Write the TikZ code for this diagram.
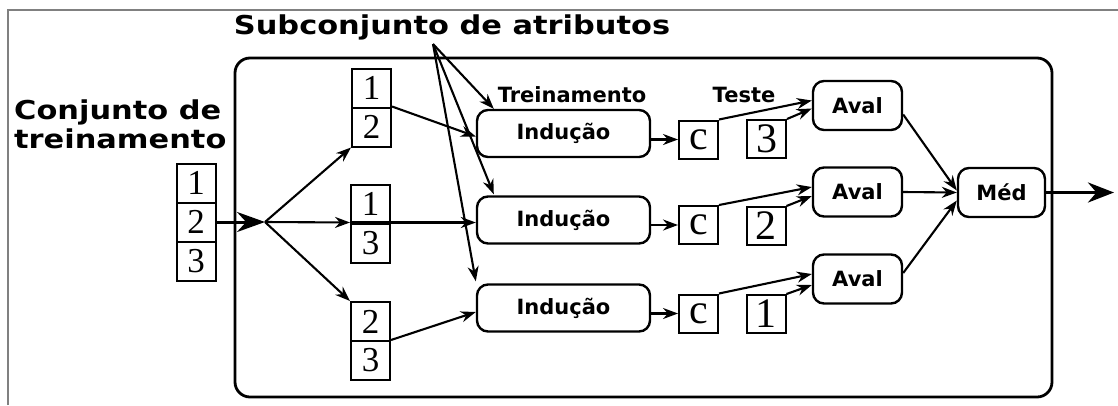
\documentclass[tikz,border=0pt]{standalone}
\usepackage{fontspec}
\setmainfont{Liberation Serif}
\newfontfamily\sansb{DejaVu Sans}
\newfontfamily\widesans{DejaVu Sans}[FakeStretch=1.17]
\usetikzlibrary{arrows.meta,calc}
\begin{document}
\begin{tikzpicture}[x=1pt,y=-1pt,
  every node/.style={inner sep=0pt},
  cell/.style={draw, line width=2pt, minimum width=39pt, minimum height=39pt, font=\fontsize{35}{35}\selectfont},
  bigcell/.style={draw, line width=2pt, minimum width=39pt, minimum height=38pt, font=\fontsize{42}{42}\selectfont},
  proc/.style={draw, line width=2.4pt, rounded corners=11pt, font=\sansb\bfseries\fontsize{21}{24}\selectfont},
  lbl/.style={font=\sansb\bfseries\fontsize{21}{24}\selectfont},
  big/.style={font=\widesans\bfseries\fontsize{26}{29}\selectfont},
  arr/.style={line width=2.1pt, -{Stealth[length=15pt,width=11pt]}},
]
\useasboundingbox (0,0) rectangle (1118,405);
\draw[gray, line width=1.5pt] (8,405) -- (8,10) -- (1118,10);
\draw[line width=2.8pt, rounded corners=15pt] (235,58) rectangle (1052,397);

% titles
\node[big] (title) at (452,27) {Subconjunto de atributos};
\node[big, anchor=north west, align=left] (conj) at (14,100) {Conjunto de\\treinamento};
\node[lbl, anchor=base] (trein) at (572,102) {Treinamento};
\node[lbl, anchor=base] (teste) at (744,102) {Teste};

% training set stack
\node[cell] (L1) at (196,183) {1};
\node[cell] (L2) at (196,222) {2};
\node[cell] (L3) at (196,261) {3};

% subsets
\node[cell] (Ta) at (371.5,88) {1};
\node[cell] (Tb) at (371.5,127) {2};
\node[cell] (Ma) at (370.5,204) {1};
\node[cell] (Mb) at (370.5,243) {3};
\node[cell] (Ba) at (370.5,321.5) {2};
\node[cell] (Bb) at (370.5,360.5) {3};

% induction
\node[proc, minimum width=173pt, minimum height=47pt] (I1) at (563.5,133.5) {Indução};
\node[proc, minimum width=173pt, minimum height=47pt] (I2) at (563.5,220) {Indução};
\node[proc, minimum width=173pt, minimum height=47pt] (I3) at (563.5,308) {Indução};

% classifiers
\node[bigcell] (C1) at (698.5,139.5) {c};
\node[bigcell] (C2) at (698.5,225) {c};
\node[bigcell] (C3) at (698.5,313.5) {c};

% test folds
\node[bigcell] (N1) at (766.5,139) {3};
\node[bigcell] (N2) at (766,226) {2};
\node[bigcell] (N3) at (766,314) {1};

% evaluation
\node[proc, minimum width=89pt, minimum height=49pt] (A1) at (857.5,105.5) {Aval};
\node[proc, minimum width=89pt, minimum height=49pt] (A2) at (857.5,192) {Aval};
\node[proc, minimum width=89pt, minimum height=49pt] (A3) at (857.5,279) {Aval};
\node[proc, minimum width=87pt, minimum height=49pt] (Med) at (1001.5,192.5) {Méd};

\coordinate (split) at (265,222);
\coordinate (apex) at (433,44);
\coordinate (out) at (1114,192.5);

% connectors
\draw[line width=3pt, -{Stealth[length=28pt,width=20pt]}] (L2.east) -- (split);
\draw[arr] (split) -- (Tb.south west);
\draw[arr] (split) -- (Mb.north west);
\draw[arr] (Mb.north west) -- (Mb.north west -| I2.west);
\draw[arr] (split) -- (Ba.north west);
\draw[arr] (Tb.north east) -- ($(I1.west)+(0,3)$);
\draw[arr] (Bb.north east) -- ($(I3.west)+(0,4)$);

\draw[arr] (apex) -- ($(I1.north west)+(18,0)$);
\draw[arr] (apex) -- ($(I2.north west)+(18,-1)$);
\draw[arr] (apex) -- ($(I3.north west)+(0,-2)$);

\draw[arr] (I1.east |- C1) -- (C1.west);
\draw[arr] (I2.east |- C2) -- (C2.west);
\draw[arr] (I3.east |- C3) -- (C3.west);

\draw[arr] (C1.north east) -- ($(A1.west)+(0,-5)$);
\draw[arr] (N1.north east) -- ($(A1.west)+(0,3)$);
\draw[arr] (C2.north east) -- ($(A2.west)+(0,-5)$);
\draw[arr] (N2.north east) -- ($(A2.west)+(0,4)$);
\draw[arr] (C3.north east) -- ($(A3.west)+(0,-5)$);
\draw[arr] (N3.north east) -- ($(A3.west)+(0,6)$);

\draw[arr] ($(A1.east)+(0,9)$) -- ($(Med.west)+(0,-2)$);
\draw[arr] (A2.east) -- (Med.west);
\draw[arr] ($(A3.east)+(0,-6)$) -- ($(Med.west)+(0,8)$);
\draw[line width=3.5pt, -{Stealth[length=26pt,width=20pt]}] (Med.east) -- (out);
\end{tikzpicture}
\end{document}
